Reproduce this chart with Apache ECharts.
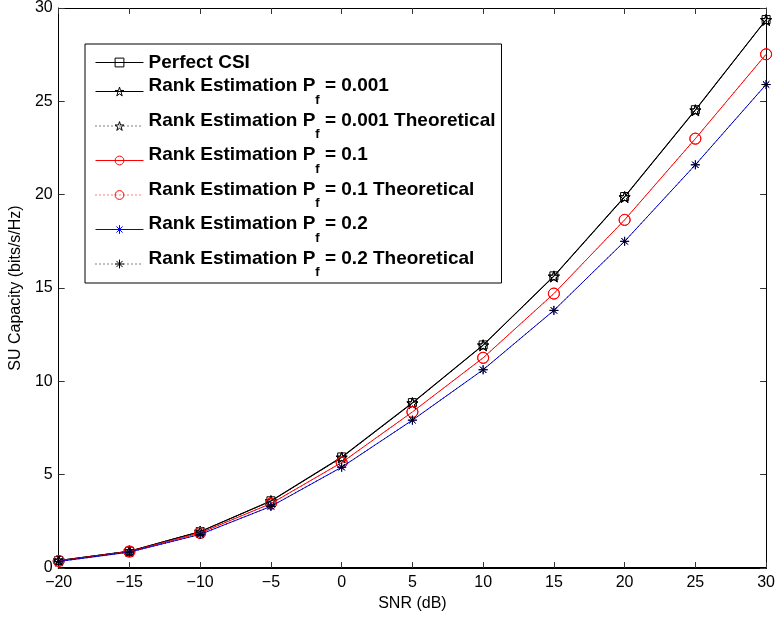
<!DOCTYPE html>
<html>
<head>
<meta charset="utf-8">
<script src="https://cdn.jsdelivr.net/npm/echarts@6/dist/echarts.min.js"></script>
<style>html,body{margin:0;padding:0;background:#fff}#c{width:778px;height:617px}</style>
</head>
<body>
<div id="c"></div>
<script>
// ---- data ----
const snr = [-20, -15, -10, -5, 0, 5, 10, 15, 20, 25, 30];
const perfectCSI = [0.40, 0.90, 1.95, 3.60, 5.95, 8.86, 11.95, 15.65, 19.90, 24.55, 29.38];
const rankPf0001 = [0.40, 0.90, 1.95, 3.58, 5.92, 8.83, 11.93, 15.62, 19.87, 24.52, 29.36];
const rankPf0001Theo = [0.40, 0.90, 1.95, 3.58, 5.92, 8.83, 11.93, 15.62, 19.87, 24.52, 29.36];
const rankPf01 = [0.38, 0.88, 1.88, 3.45, 5.65, 8.36, 11.26, 14.70, 18.65, 23.00, 27.52];
const rankPf01Theo = [0.38, 0.88, 1.88, 3.45, 5.65, 8.36, 11.26, 14.70, 18.65, 23.00, 27.52];
const rankPf02 = [0.35, 0.85, 1.80, 3.30, 5.40, 7.92, 10.62, 13.80, 17.50, 21.60, 25.90];
const rankPf02Theo = [0.35, 0.85, 1.80, 3.30, 5.40, 7.92, 10.62, 13.80, 17.50, 21.60, 25.90];
const seriesNames = [
  'Perfect CSI',
  'Rank Estimation Pf = 0.001',
  'Rank Estimation Pf = 0.001 Theoretical',
  'Rank Estimation Pf = 0.1',
  'Rank Estimation Pf = 0.1 Theoretical',
  'Rank Estimation Pf = 0.2',
  'Rank Estimation Pf = 0.2 Theoretical'
];
const xTicks = { min: -20, max: 30, step: 5 };
const yTicks = { min: 0, max: 30, step: 5 };

// ---- chart ----
const FONT = 'Liberation Sans, Arial, Helvetica, sans-serif';
const STAR = 'path://M0,-100L22.45,-30.9L95.1,-30.9L36.3,11.8L58.8,80.9L0,38.2L-58.8,80.9L-36.3,11.8L-95.1,-30.9L-22.45,-30.9Z';
const ASTER = 'path://M50,0L50,100M0,50L100,50M15,15L85,85M15,85L85,15';
const CLEAR = 'rgba(0,0,0,0)';

const pair = (arr) => snr.map((x, i) => [x, arr[i]]);

const styles = [
  { color: '#000', type: 'solid', symbol: 'rect', size: 8 },
  { color: '#000', type: 'solid', symbol: STAR, size: 11 },
  { color: '#000', type: [1, 3], symbol: STAR, size: 11 },
  { color: '#ff0000', type: 'solid', symbol: 'circle', size: 11 },
  { color: '#ff0000', type: [1, 3], symbol: 'circle', size: 11 },
  { color: '#0000ff', type: 'solid', symbol: ASTER, size: 9 },
  { color: '#000', type: [1, 3], symbol: ASTER, size: 9 }
];
const dataArrays = [perfectCSI, rankPf0001, rankPf0001Theo, rankPf01, rankPf01Theo, rankPf02, rankPf02Theo];

const series = seriesNames.map((name, k) => {
  const s = styles[k];
  return {
    name, type: 'line', data: pair(dataArrays[k]), z: 2 + k,
    color: s.color,
    symbol: s.symbol, symbolSize: s.size,
    showAllSymbol: true,
    lineStyle: { color: s.color, width: 1, type: s.type },
    itemStyle: { color: CLEAR, borderColor: s.color, borderWidth: 1 },
    emphasis: { disabled: true },
    animation: false
  };
});

const legendData = seriesNames.map((name, k) => {
  const s = styles[k];
  return {
    name,
    itemStyle: { color: CLEAR, borderColor: s.color, borderWidth: 1 },
    lineStyle: { color: s.color, width: 1, type: s.type }
  };
});

function fmtLegend(name) {
  const i = name.indexOf('Pf');
  if (i < 0) return '{m|' + name + '}';
  const before = name.slice(0, i) + 'P';
  const after = name.slice(i + 2).trim();
  return '{b|' + before + '}{sub|f}{s| }{b|' + after + '}';
}

const minus = (v) => String(v).replace('-', '\u2212');

const option = {
  backgroundColor: '#fff',
  animation: false,
  grid: { left: 54, right: 9, top: 5, bottom: 49, containLabel: false },
  legend: {
    data: legendData,
    orient: 'vertical',
    left: 85, top: 44,
    padding: [9, 6, 4, 10],
    itemGap: 4.5,
    itemWidth: 48,
    itemHeight: 11,
    borderColor: '#000', borderWidth: 1,
    backgroundColor: '#fff',
    selectedMode: false,
    formatter: fmtLegend,
    textStyle: {
      fontFamily: FONT, fontSize: 19, fontWeight: 'bold', color: '#000',
      rich: {
        m: { fontFamily: FONT, fontSize: 19, fontWeight: 'bold', color: '#000', lineHeight: 22 },
        b: { fontFamily: FONT, fontSize: 19, fontWeight: 'bold', color: '#000', lineHeight: 23, verticalAlign: 'top' },
        sub: { fontFamily: FONT, fontSize: 13, fontWeight: 'bold', color: '#000', lineHeight: 17, verticalAlign: 'bottom' },
        s: { fontFamily: FONT, fontSize: 19, fontWeight: 'bold', color: '#000', lineHeight: 30 }
      }
    }
  },
  xAxis: [{
    type: 'value', min: xTicks.min, max: xTicks.max, interval: xTicks.step,
    name: 'SNR (dB)', nameLocation: 'middle', nameGap: 18,
    nameTextStyle: { fontFamily: FONT, fontSize: 16, color: '#000' },
    axisLine: { show: true, onZero: false, lineStyle: { color: '#000', width: 2 } },
    axisTick: { show: true, inside: true, length: 6, lineStyle: { color: '#333', width: 1 } },
    axisLabel: { fontFamily: FONT, fontSize: 16, color: '#000', margin: 7, formatter: minus },
    splitLine: { show: false }
  }, {
    type: 'value', position: 'top', min: xTicks.min, max: xTicks.max, interval: xTicks.step,
    axisLine: { show: true, onZero: false, lineStyle: { color: '#000', width: 1 } },
    axisTick: { show: true, inside: true, length: 6, lineStyle: { color: '#333', width: 1 } },
    axisLabel: { show: false }, splitLine: { show: false }
  }],
  yAxis: [{
    type: 'value', min: yTicks.min, max: yTicks.max, interval: yTicks.step,
    name: 'SU Capacity (bits/s/Hz)', nameLocation: 'middle', nameGap: 33,
    nameTextStyle: { fontFamily: FONT, fontSize: 16, color: '#000' },
    axisLine: { show: true, onZero: false, lineStyle: { color: '#000', width: 1 } },
    axisTick: { show: true, inside: true, length: 6, lineStyle: { color: '#333', width: 1 } },
    axisLabel: { fontFamily: FONT, fontSize: 16, color: '#000', margin: 6 },
    splitLine: { show: false }
  }, {
    type: 'value', position: 'right', min: yTicks.min, max: yTicks.max, interval: yTicks.step,
    axisLine: { show: true, onZero: false, lineStyle: { color: '#000', width: 1 } },
    axisTick: { show: true, inside: true, length: 6, lineStyle: { color: '#333', width: 1 } },
    axisLabel: { show: false }, splitLine: { show: false }
  }],
  series: series
};

const chart = echarts.init(document.getElementById('c'), null, { renderer: 'canvas' });
chart.setOption(option);
</script>
</body>
</html>
